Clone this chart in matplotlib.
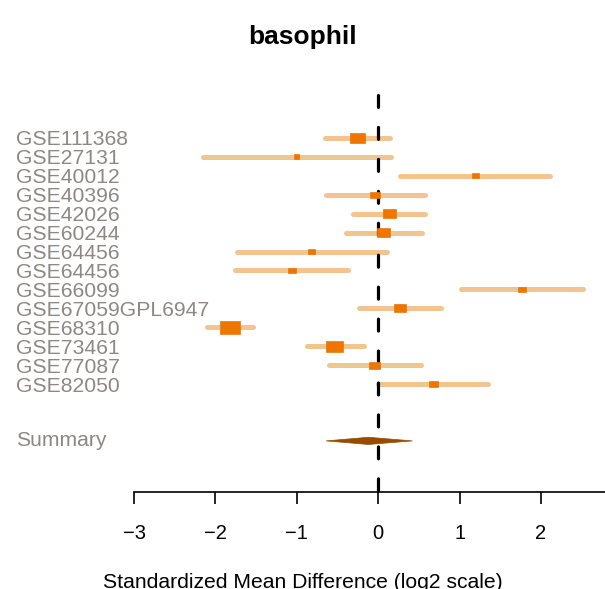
import matplotlib
matplotlib.use("Agg")
from matplotlib import pyplot as plt
from matplotlib.patches import Rectangle, Polygon
from matplotlib import transforms

# study-level effect sizes (standardized mean difference, log2 scale)
studies = ["GSE111368", "GSE27131", "GSE40012", "GSE40396", "GSE42026",
           "GSE60244", "GSE64456", "GSE64456", "GSE66099", "GSE67059GPL6947",
           "GSE68310", "GSE73461", "GSE77087", "GSE82050"]
effect = [-0.26, -1.00, 1.19, -0.04, 0.14, 0.07, -0.82, -1.06, 1.77, 0.27,
          -1.82, -0.54, -0.05, 0.68]
ci_low = [-0.65, -2.15, 0.27, -0.64, -0.31, -0.40, -1.74, -1.76, 1.02, -0.23,
          -2.10, -0.88, -0.61, 0.00]
ci_high = [0.15, 0.16, 2.11, 0.57, 0.58, 0.54, 0.11, -0.37, 2.52, 0.77,
           -1.54, -0.18, 0.52, 1.35]
weights = [0.75, 0.25, 0.35, 0.5, 0.65, 0.65, 0.35, 0.4, 0.4, 0.6,
           1.0, 0.85, 0.55, 0.45]

summary_est = -0.12
summary_low = -0.64
summary_high = 0.42

xticks = [-3, -2, -1, 0, 1, 2]

plt.rcParams["font.family"] = ["Liberation Sans", "DejaVu Sans"]
plt.rcParams["lines.scale_dashes"] = False

fig = plt.figure(figsize=(6.05, 5.89), dpi=100)
ax = fig.add_axes([134 / 605, 97 / 589, 1 - 134 / 605, 397 / 589])

px_x = 81.4   # pixels per x unit
x_max = -3 + 471 / px_x
ax.set_xlim(-3, x_max)
y_bottom = 18.70
y_top = -2.27
ax.set_ylim(y_bottom, y_top)

rows = list(range(len(studies)))
summary_row = len(studies) + 2

line_col = "#F2C48F"
box_col = "#EE7600"

# zero reference line, dashes starting from the top
ax.plot([0, 0], [y_top, y_bottom], color="black", lw=2.3,
        dashes=(8.6, 14.4), solid_capstyle="round", dash_capstyle="round",
        zorder=2, clip_on=False)

for r, lo, hi in zip(rows, ci_low, ci_high):
    ax.plot([lo, hi], [r, r], color=line_col, lw=3.6,
            solid_capstyle="round", zorder=1)

for r, est, w in zip(rows, effect, weights):
    bw = w * 20 / px_x
    bh = max(w * 13, 5) / 18.93
    ax.add_patch(Rectangle((est - bw / 2, r - bh / 2), bw, bh,
                           facecolor=box_col, edgecolor=box_col, lw=0.5,
                           zorder=3))

# pooled estimate diamond
dh = 3.6 / 18.93
ax.add_patch(Polygon([(summary_low, summary_row), (summary_est, summary_row - dh),
                      (summary_high, summary_row), (summary_est, summary_row + dh)],
                     closed=True, facecolor="#964B00", edgecolor="#964B00",
                     lw=0.5, zorder=3))

label_tr = transforms.blended_transform_factory(fig.transFigure, ax.transData)
for r, name in zip(rows, studies):
    ax.text(16 / 605, r, name, transform=label_tr, ha="left",
            va="center_baseline", fontsize=15.2, color="#8C8884")
ax.text(16 / 605, summary_row - 0.1, "Summary", transform=label_tr, ha="left",
        va="center_baseline", fontsize=15.2, color="#8C8884")

for side in ["left", "right", "top"]:
    ax.spines[side].set_visible(False)
ax.spines["bottom"].set_linewidth(1.2)
ax.set_yticks([])
ax.set_xticks(xticks)
ax.set_xticklabels(["\u2212" + str(abs(t)) if t < 0 else str(t) for t in xticks])
ax.tick_params(axis="x", direction="out", length=8.6, width=1.2,
               pad=14.5, labelsize=14.5)

fig.text(0.5, (589 - 44) / 589, "basophil", ha="center", va="baseline",
         fontsize=19, fontweight="bold")
fig.text(0.5, (589 - 588) / 589, "Standardized Mean Difference (log2 scale)",
         ha="center", va="baseline", fontsize=15.2)

fig.savefig("out.png", dpi=100)
